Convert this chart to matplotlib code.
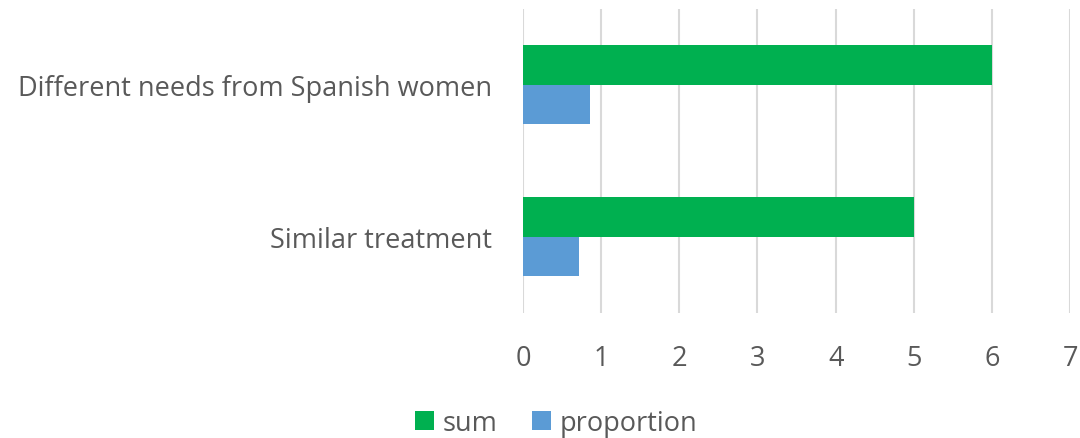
import matplotlib.pyplot as plt
import numpy as np

plt.rcParams['font.family'] = ['Open Sans', 'DejaVu Sans']

# data
categories = ['Different needs from Spanish women', 'Similar treatment']
sums = [6, 5]
proportions = [6 / 7, 5 / 7]

y = np.arange(len(categories))
h = 0.26

fig = plt.figure(figsize=(10.8, 4.39), dpi=100)
ax = fig.add_axes([0.4843, 0.2848, 0.5065, 0.6925])

ax.barh(y - h / 2, sums, h, color='#00B050', label='sum', zorder=3)
ax.barh(y + h / 2, proportions, h, color='#5B9BD5', label='proportion', zorder=3)

ax.set_xlim(0, 7)
ax.set_ylim(1.5, -0.5)
ax.set_xticks(range(8))
ax.set_yticks(y)
ax.set_yticklabels(categories)
ax.grid(axis='x', color='#D9D9D9', linewidth=1.5, zorder=0)
for s in ax.spines.values():
    s.set_visible(False)
ax.tick_params(axis='both', length=0, labelsize=19.5, labelcolor='#595959')
ax.tick_params(axis='y', pad=22)
ax.tick_params(axis='x', pad=22)

fig.legend(loc='center', bbox_to_anchor=(0.515, 0.035), ncol=2, frameon=False,
           fontsize=19.5, labelcolor='#595959', handlelength=0.7, handleheight=0.7,
           handletextpad=0.3, columnspacing=1.3)

fig.savefig('out.png', dpi=100)
